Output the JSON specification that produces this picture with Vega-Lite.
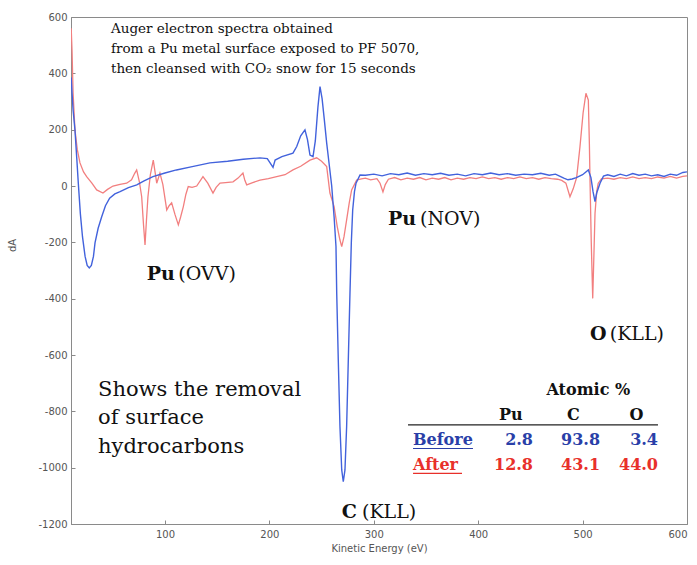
{
  "$schema": "https://vega.github.io/schema/vega-lite/v6.json",
  "width": 616,
  "height": 507,
  "autosize": {"type": "none"},
  "padding": {"left": 71, "top": 17, "right": 10, "bottom": 41},
  "background": "white",
  "config": {
    "view": {"stroke": "#8a8a8a", "strokeWidth": 1},
    "axis": {
      "grid": false,
      "domainColor": "#8a8a8a",
      "tickColor": "#8a8a8a",
      "tickSize": -4,
      "labelFont": "DejaVu Sans",
      "labelFontSize": 10,
      "labelColor": "#555555",
      "titleFont": "DejaVu Sans",
      "titleFontSize": 10,
      "titleFontWeight": "normal",
      "titleColor": "#555555"
    }
  },
  "datasets": {
    "spec": [
      {"E": 10.2, "v": 385, "s": "Before"}, {"E": 11, "v": 330, "s": "Before"}, {"E": 12, "v": 270, "s": "Before"}, {"E": 13.8, "v": 199, "s": "Before"}, {"E": 15.5, "v": 100, "s": "Before"}, {"E": 17, "v": 10, "s": "Before"}, {"E": 19, "v": -100, "s": "Before"}, {"E": 21, "v": -180, "s": "Before"}, {"E": 23.5, "v": -250, "s": "Before"}, {"E": 25.5, "v": -282, "s": "Before"}, {"E": 27.5, "v": -291, "s": "Before"}, {"E": 29.5, "v": -282, "s": "Before"}, {"E": 31.5, "v": -250, "s": "Before"}, {"E": 33, "v": -202, "s": "Before"}, {"E": 36, "v": -150, "s": "Before"}, {"E": 39.4, "v": -109, "s": "Before"}, {"E": 43, "v": -70, "s": "Before"}, {"E": 47, "v": -43, "s": "Before"}, {"E": 52, "v": -28, "s": "Before"}, {"E": 57, "v": -20, "s": "Before"}, {"E": 65, "v": -6, "s": "Before"}, {"E": 73, "v": 4, "s": "Before"}, {"E": 80, "v": 18, "s": "Before"}, {"E": 88.5, "v": 33, "s": "Before"}, {"E": 100, "v": 46, "s": "Before"}, {"E": 111, "v": 57, "s": "Before"}, {"E": 125, "v": 68, "s": "Before"}, {"E": 143, "v": 82, "s": "Before"}, {"E": 160, "v": 88, "s": "Before"}, {"E": 175, "v": 95, "s": "Before"}, {"E": 191, "v": 100, "s": "Before"}, {"E": 198, "v": 97, "s": "Before"}, {"E": 201, "v": 80, "s": "Before"}, {"E": 203.5, "v": 66, "s": "Before"}, {"E": 205.5, "v": 92, "s": "Before"}, {"E": 212, "v": 104, "s": "Before"}, {"E": 222.6, "v": 117, "s": "Before"}, {"E": 226.2, "v": 140, "s": "Before"}, {"E": 230, "v": 178, "s": "Before"}, {"E": 234.1, "v": 199, "s": "Before"}, {"E": 236.5, "v": 165, "s": "Before"}, {"E": 238.9, "v": 110, "s": "Before"}, {"E": 241.8, "v": 104, "s": "Before"}, {"E": 244, "v": 160, "s": "Before"}, {"E": 246.5, "v": 280, "s": "Before"}, {"E": 248.5, "v": 353, "s": "Before"}, {"E": 250.5, "v": 310, "s": "Before"}, {"E": 252.5, "v": 240, "s": "Before"}, {"E": 254.9, "v": 152, "s": "Before"}, {"E": 257.5, "v": 70, "s": "Before"}, {"E": 259.7, "v": 0, "s": "Before"}, {"E": 262, "v": -110, "s": "Before"}, {"E": 263.8, "v": -215, "s": "Before"}, {"E": 264.5, "v": -380, "s": "Before"}, {"E": 266, "v": -618, "s": "Before"}, {"E": 267.6, "v": -854, "s": "Before"}, {"E": 269.3, "v": -1008, "s": "Before"}, {"E": 270.8, "v": -1050, "s": "Before"}, {"E": 272.4, "v": -1008, "s": "Before"}, {"E": 274, "v": -854, "s": "Before"}, {"E": 275.6, "v": -618, "s": "Before"}, {"E": 277.2, "v": -380, "s": "Before"}, {"E": 278.5, "v": -200, "s": "Before"}, {"E": 279.8, "v": -85, "s": "Before"}, {"E": 281.5, "v": -20, "s": "Before"}, {"E": 283, "v": 10, "s": "Before"}, {"E": 286.8, "v": 39, "s": "Before"}, {"E": 292, "v": 38, "s": "Before"}, {"E": 300, "v": 42, "s": "Before"}, {"E": 308, "v": 36, "s": "Before"}, {"E": 316, "v": 44, "s": "Before"}, {"E": 324, "v": 40, "s": "Before"}, {"E": 332, "v": 46, "s": "Before"}, {"E": 340, "v": 38, "s": "Before"}, {"E": 348, "v": 44, "s": "Before"}, {"E": 356, "v": 40, "s": "Before"}, {"E": 364, "v": 45, "s": "Before"}, {"E": 372, "v": 38, "s": "Before"}, {"E": 380, "v": 42, "s": "Before"}, {"E": 388, "v": 36, "s": "Before"}, {"E": 396, "v": 44, "s": "Before"}, {"E": 404, "v": 40, "s": "Before"}, {"E": 412, "v": 46, "s": "Before"}, {"E": 420, "v": 40, "s": "Before"}, {"E": 428, "v": 44, "s": "Before"}, {"E": 436, "v": 38, "s": "Before"}, {"E": 444, "v": 42, "s": "Before"}, {"E": 452, "v": 40, "s": "Before"}, {"E": 460, "v": 45, "s": "Before"}, {"E": 468, "v": 38, "s": "Before"}, {"E": 474, "v": 42, "s": "Before"}, {"E": 478, "v": 35, "s": "Before"}, {"E": 482, "v": 28, "s": "Before"}, {"E": 486, "v": 22, "s": "Before"}, {"E": 490, "v": 25, "s": "Before"}, {"E": 494, "v": 30, "s": "Before"}, {"E": 500, "v": 40, "s": "Before"}, {"E": 505.5, "v": 57, "s": "Before"}, {"E": 508, "v": 30, "s": "Before"}, {"E": 510, "v": -20, "s": "Before"}, {"E": 511.9, "v": -55, "s": "Before"}, {"E": 513.5, "v": -25, "s": "Before"}, {"E": 516.7, "v": 10, "s": "Before"}, {"E": 520, "v": 35, "s": "Before"}, {"E": 524, "v": 40, "s": "Before"}, {"E": 530, "v": 34, "s": "Before"}, {"E": 536, "v": 42, "s": "Before"}, {"E": 542, "v": 36, "s": "Before"}, {"E": 548, "v": 44, "s": "Before"}, {"E": 554, "v": 38, "s": "Before"}, {"E": 560, "v": 42, "s": "Before"}, {"E": 566, "v": 36, "s": "Before"}, {"E": 572, "v": 40, "s": "Before"}, {"E": 578, "v": 34, "s": "Before"}, {"E": 584, "v": 42, "s": "Before"}, {"E": 590, "v": 38, "s": "Before"}, {"E": 596, "v": 48, "s": "Before"}, {"E": 600, "v": 50, "s": "Before"},
      {"E": 10.2, "v": 560, "s": "After"}, {"E": 11, "v": 480, "s": "After"}, {"E": 12, "v": 330, "s": "After"}, {"E": 13.8, "v": 199, "s": "After"}, {"E": 16, "v": 130, "s": "After"}, {"E": 18.6, "v": 82, "s": "After"}, {"E": 22, "v": 50, "s": "After"}, {"E": 25, "v": 33, "s": "After"}, {"E": 30, "v": 10, "s": "After"}, {"E": 34.6, "v": -14, "s": "After"}, {"E": 40.6, "v": -25, "s": "After"}, {"E": 45, "v": -12, "s": "After"}, {"E": 50.2, "v": 0, "s": "After"}, {"E": 57, "v": 6, "s": "After"}, {"E": 63.3, "v": 10, "s": "After"}, {"E": 68, "v": 22, "s": "After"}, {"E": 71, "v": 45, "s": "After"}, {"E": 72.9, "v": 57, "s": "After"}, {"E": 75.5, "v": 15, "s": "After"}, {"E": 77.7, "v": -38, "s": "After"}, {"E": 79.5, "v": -140, "s": "After"}, {"E": 80.9, "v": -209, "s": "After"}, {"E": 82.3, "v": -120, "s": "After"}, {"E": 83.7, "v": -38, "s": "After"}, {"E": 86, "v": 40, "s": "After"}, {"E": 88.8, "v": 92, "s": "After"}, {"E": 90.5, "v": 50, "s": "After"}, {"E": 92.1, "v": 10, "s": "After"}, {"E": 95.2, "v": 46, "s": "After"}, {"E": 98, "v": 5, "s": "After"}, {"E": 101.7, "v": -85, "s": "After"}, {"E": 104, "v": -70, "s": "After"}, {"E": 106.4, "v": -60, "s": "After"}, {"E": 109.5, "v": -100, "s": "After"}, {"E": 112.8, "v": -138, "s": "After"}, {"E": 115, "v": -110, "s": "After"}, {"E": 117.6, "v": -73, "s": "After"}, {"E": 120, "v": -30, "s": "After"}, {"E": 122.3, "v": -2, "s": "After"}, {"E": 126, "v": -5, "s": "After"}, {"E": 130.4, "v": 0, "s": "After"}, {"E": 136.4, "v": 33, "s": "After"}, {"E": 141, "v": 10, "s": "After"}, {"E": 146, "v": -25, "s": "After"}, {"E": 149, "v": -5, "s": "After"}, {"E": 152.7, "v": 10, "s": "After"}, {"E": 158, "v": 12, "s": "After"}, {"E": 165.2, "v": 15, "s": "After"}, {"E": 170, "v": 28, "s": "After"}, {"E": 174.7, "v": 46, "s": "After"}, {"E": 176.5, "v": 20, "s": "After"}, {"E": 178.3, "v": 4, "s": "After"}, {"E": 184, "v": 12, "s": "After"}, {"E": 191, "v": 21, "s": "After"}, {"E": 199, "v": 26, "s": "After"}, {"E": 207, "v": 33, "s": "After"}, {"E": 215, "v": 40, "s": "After"}, {"E": 222.6, "v": 57, "s": "After"}, {"E": 230, "v": 70, "s": "After"}, {"E": 238.9, "v": 92, "s": "After"}, {"E": 245.3, "v": 100, "s": "After"}, {"E": 250, "v": 88, "s": "After"}, {"E": 254.9, "v": 69, "s": "After"}, {"E": 258, "v": -25, "s": "After"}, {"E": 262, "v": -73, "s": "After"}, {"E": 265, "v": -144, "s": "After"}, {"E": 267.5, "v": -190, "s": "After"}, {"E": 269.3, "v": -215, "s": "After"}, {"E": 271.5, "v": -180, "s": "After"}, {"E": 274, "v": -120, "s": "After"}, {"E": 276.5, "v": -60, "s": "After"}, {"E": 278.8, "v": -14, "s": "After"}, {"E": 283.6, "v": 21, "s": "After"}, {"E": 287, "v": 24, "s": "After"}, {"E": 292, "v": 28, "s": "After"}, {"E": 297, "v": 22, "s": "After"}, {"E": 303, "v": 26, "s": "After"}, {"E": 306, "v": 10, "s": "After"}, {"E": 308.8, "v": -21, "s": "After"}, {"E": 311, "v": 5, "s": "After"}, {"E": 314, "v": 24, "s": "After"}, {"E": 320, "v": 30, "s": "After"}, {"E": 326, "v": 22, "s": "After"}, {"E": 332, "v": 28, "s": "After"}, {"E": 338, "v": 24, "s": "After"}, {"E": 344, "v": 30, "s": "After"}, {"E": 350, "v": 22, "s": "After"}, {"E": 356, "v": 28, "s": "After"}, {"E": 362, "v": 24, "s": "After"}, {"E": 368, "v": 30, "s": "After"}, {"E": 374, "v": 22, "s": "After"}, {"E": 380, "v": 28, "s": "After"}, {"E": 386, "v": 24, "s": "After"}, {"E": 392, "v": 30, "s": "After"}, {"E": 398, "v": 26, "s": "After"}, {"E": 404, "v": 32, "s": "After"}, {"E": 410, "v": 26, "s": "After"}, {"E": 416, "v": 30, "s": "After"}, {"E": 422, "v": 24, "s": "After"}, {"E": 428, "v": 30, "s": "After"}, {"E": 434, "v": 26, "s": "After"}, {"E": 440, "v": 32, "s": "After"}, {"E": 446, "v": 26, "s": "After"}, {"E": 452, "v": 30, "s": "After"}, {"E": 458, "v": 24, "s": "After"}, {"E": 464, "v": 30, "s": "After"}, {"E": 470, "v": 26, "s": "After"}, {"E": 476, "v": 24, "s": "After"}, {"E": 480, "v": 20, "s": "After"}, {"E": 484, "v": 10, "s": "After"}, {"E": 487.9, "v": -38, "s": "After"}, {"E": 491, "v": -10, "s": "After"}, {"E": 494.3, "v": 30, "s": "After"}, {"E": 497.5, "v": 140, "s": "After"}, {"E": 500.5, "v": 260, "s": "After"}, {"E": 503.2, "v": 329, "s": "After"}, {"E": 505.5, "v": 305, "s": "After"}, {"E": 506.5, "v": 150, "s": "After"}, {"E": 507.1, "v": 21, "s": "After"}, {"E": 508.3, "v": -200, "s": "After"}, {"E": 509.7, "v": -399, "s": "After"}, {"E": 510.8, "v": -250, "s": "After"}, {"E": 511.9, "v": -97, "s": "After"}, {"E": 513.5, "v": -20, "s": "After"}, {"E": 515, "v": 10, "s": "After"}, {"E": 518, "v": 25, "s": "After"}, {"E": 524, "v": 28, "s": "After"}, {"E": 530, "v": 24, "s": "After"}, {"E": 536, "v": 30, "s": "After"}, {"E": 542, "v": 26, "s": "After"}, {"E": 548, "v": 32, "s": "After"}, {"E": 554, "v": 26, "s": "After"}, {"E": 560, "v": 30, "s": "After"}, {"E": 566, "v": 26, "s": "After"}, {"E": 572, "v": 32, "s": "After"}, {"E": 578, "v": 28, "s": "After"}, {"E": 584, "v": 34, "s": "After"}, {"E": 590, "v": 28, "s": "After"}, {"E": 596, "v": 34, "s": "After"}, {"E": 600, "v": 36, "s": "After"}
    ],
    "notes": [
      {"role": "note", "E": 48.3, "v": 556, "t": "Auger electron spectra obtained"},
      {"role": "note", "E": 48.3, "v": 485, "t": "from a Pu metal surface exposed to PF 5070,"},
      {"role": "note", "E": 48.3, "v": 414, "t": "then cleansed with CO₂ snow for 15 seconds"},
      {"role": "pkb", "E": 82.5, "v": -312, "t": "Pu"},
      {"role": "pkr", "E": 112.8, "v": -312, "t": "(OVV)"},
      {"role": "pkb", "E": 313.6, "v": -117, "t": "Pu"},
      {"role": "pkr", "E": 344.3, "v": -117, "t": "(NOV)"},
      {"role": "pkb", "E": 269.3, "v": -1156, "t": "C"},
      {"role": "pkr", "E": 288.7, "v": -1156, "t": "(KLL)"},
      {"role": "pkb", "E": 507, "v": -525, "t": "O"},
      {"role": "pkr", "E": 526, "v": -525, "t": "(KLL)"},
      {"role": "shows", "E": 35.9, "v": -724, "t": "Shows the removal"},
      {"role": "shows", "E": 35.9, "v": -825, "t": "of surface"},
      {"role": "shows", "E": 35.9, "v": -926, "t": "hydrocarbons"},
      {"role": "head", "E": 505.5, "v": -724, "t": "Atomic %"},
      {"role": "head", "E": 431.2, "v": -813, "t": "Pu"},
      {"role": "head", "E": 491.1, "v": -813, "t": "C"},
      {"role": "head", "E": 551.6, "v": -813, "t": "O"},
      {"role": "blab", "E": 337.6, "v": -902, "t": "Before"},
      {"role": "alab", "E": 337.6, "v": -990, "t": "After"},
      {"role": "bnum", "E": 452.5, "v": -902, "t": "2.8"},
      {"role": "bnum", "E": 516.7, "v": -902, "t": "93.8"},
      {"role": "bnum", "E": 572.2, "v": -902, "t": "3.4"},
      {"role": "anum", "E": 452.5, "v": -990, "t": "12.8"},
      {"role": "anum", "E": 516.7, "v": -990, "t": "43.1"},
      {"role": "anum", "E": 572.2, "v": -990, "t": "44.0"}
    ],
    "rules": [
      {"role": "rule", "E": 332.8, "E2": 572.2, "v": -848},
      {"role": "ub", "E": 337.6, "E2": 395, "v": -932},
      {"role": "ua", "E": 337.6, "E2": 384.5, "v": -1020}
    ]
  },
  "encoding": {
    "x": {"field": "E", "type": "quantitative", "scale": {"domain": [10, 600], "nice": false, "zero": false},
      "axis": {"values": [100, 200, 300, 400, 500, 600], "title": "Kinetic Energy (eV)", "labelPadding": 9, "titlePadding": 4}},
    "y": {"field": "v", "type": "quantitative", "scale": {"domain": [-1200, 600], "nice": false, "zero": false},
      "axis": {"values": [-1200, -1000, -800, -600, -400, -200, 0, 200, 400, 600], "labelExpr": "datum.value < 0 ? '-' + abs(datum.value) : '' + datum.value", "title": "dA", "labelPadding": 8, "titleX": -54, "titleY": 228}}
  },
  "layer": [
    {"data": {"name": "spec"}, "transform": [{"filter": "datum.s === 'After'"}],
      "mark": {"type": "line", "color": "#f27f7f", "strokeWidth": 1.3, "clip": true}},
    {"data": {"name": "spec"}, "transform": [{"filter": "datum.s === 'Before'"}],
      "mark": {"type": "line", "color": "#4262dc", "strokeWidth": 1.4, "clip": true}},
    {"data": {"name": "notes"}, "transform": [{"filter": "datum.role === 'note'"}],
      "mark": {"type": "text", "font": "DejaVu Serif", "fontSize": 13.5, "align": "left", "baseline": "middle", "color": "#111111"},
      "encoding": {"text": {"field": "t"}}},
    {"data": {"name": "notes"}, "transform": [{"filter": "datum.role === 'pkb'"}],
      "mark": {"type": "text", "font": "DejaVu Serif", "fontSize": 19, "fontWeight": "bold", "align": "left", "baseline": "middle", "color": "#111111"},
      "encoding": {"text": {"field": "t"}}},
    {"data": {"name": "notes"}, "transform": [{"filter": "datum.role === 'pkr'"}],
      "mark": {"type": "text", "font": "DejaVu Serif", "fontSize": 19, "align": "left", "baseline": "middle", "color": "#111111"},
      "encoding": {"text": {"field": "t"}}},
    {"data": {"name": "notes"}, "transform": [{"filter": "datum.role === 'shows'"}],
      "mark": {"type": "text", "font": "DejaVu Serif", "fontSize": 21, "align": "left", "baseline": "middle", "color": "#111111"},
      "encoding": {"text": {"field": "t"}}},
    {"data": {"name": "notes"}, "transform": [{"filter": "datum.role === 'head'"}],
      "mark": {"type": "text", "font": "DejaVu Serif", "fontSize": 16, "fontWeight": "bold", "align": "center", "baseline": "middle", "color": "#111111"},
      "encoding": {"text": {"field": "t"}}},
    {"data": {"name": "notes"}, "transform": [{"filter": "datum.role === 'blab'"}],
      "mark": {"type": "text", "font": "DejaVu Serif", "fontSize": 16, "fontWeight": "bold", "align": "left", "baseline": "middle", "color": "#2a3fa8"},
      "encoding": {"text": {"field": "t"}}},
    {"data": {"name": "notes"}, "transform": [{"filter": "datum.role === 'alab'"}],
      "mark": {"type": "text", "font": "DejaVu Serif", "fontSize": 16, "fontWeight": "bold", "align": "left", "baseline": "middle", "color": "#e8302a"},
      "encoding": {"text": {"field": "t"}}},
    {"data": {"name": "notes"}, "transform": [{"filter": "datum.role === 'bnum'"}],
      "mark": {"type": "text", "font": "DejaVu Serif", "fontSize": 16, "fontWeight": "bold", "align": "right", "baseline": "middle", "color": "#2a3fa8"},
      "encoding": {"text": {"field": "t"}}},
    {"data": {"name": "notes"}, "transform": [{"filter": "datum.role === 'anum'"}],
      "mark": {"type": "text", "font": "DejaVu Serif", "fontSize": 16, "fontWeight": "bold", "align": "right", "baseline": "middle", "color": "#e8302a"},
      "encoding": {"text": {"field": "t"}}},
    {"data": {"name": "rules"}, "transform": [{"filter": "datum.role === 'rule'"}],
      "mark": {"type": "rule", "color": "#222222", "strokeWidth": 1.2},
      "encoding": {"x2": {"field": "E2"}}},
    {"data": {"name": "rules"}, "transform": [{"filter": "datum.role === 'ub'"}],
      "mark": {"type": "rule", "color": "#2a3fa8", "strokeWidth": 1.2},
      "encoding": {"x2": {"field": "E2"}}},
    {"data": {"name": "rules"}, "transform": [{"filter": "datum.role === 'ua'"}],
      "mark": {"type": "rule", "color": "#e8302a", "strokeWidth": 1.2},
      "encoding": {"x2": {"field": "E2"}}}
  ]
}
